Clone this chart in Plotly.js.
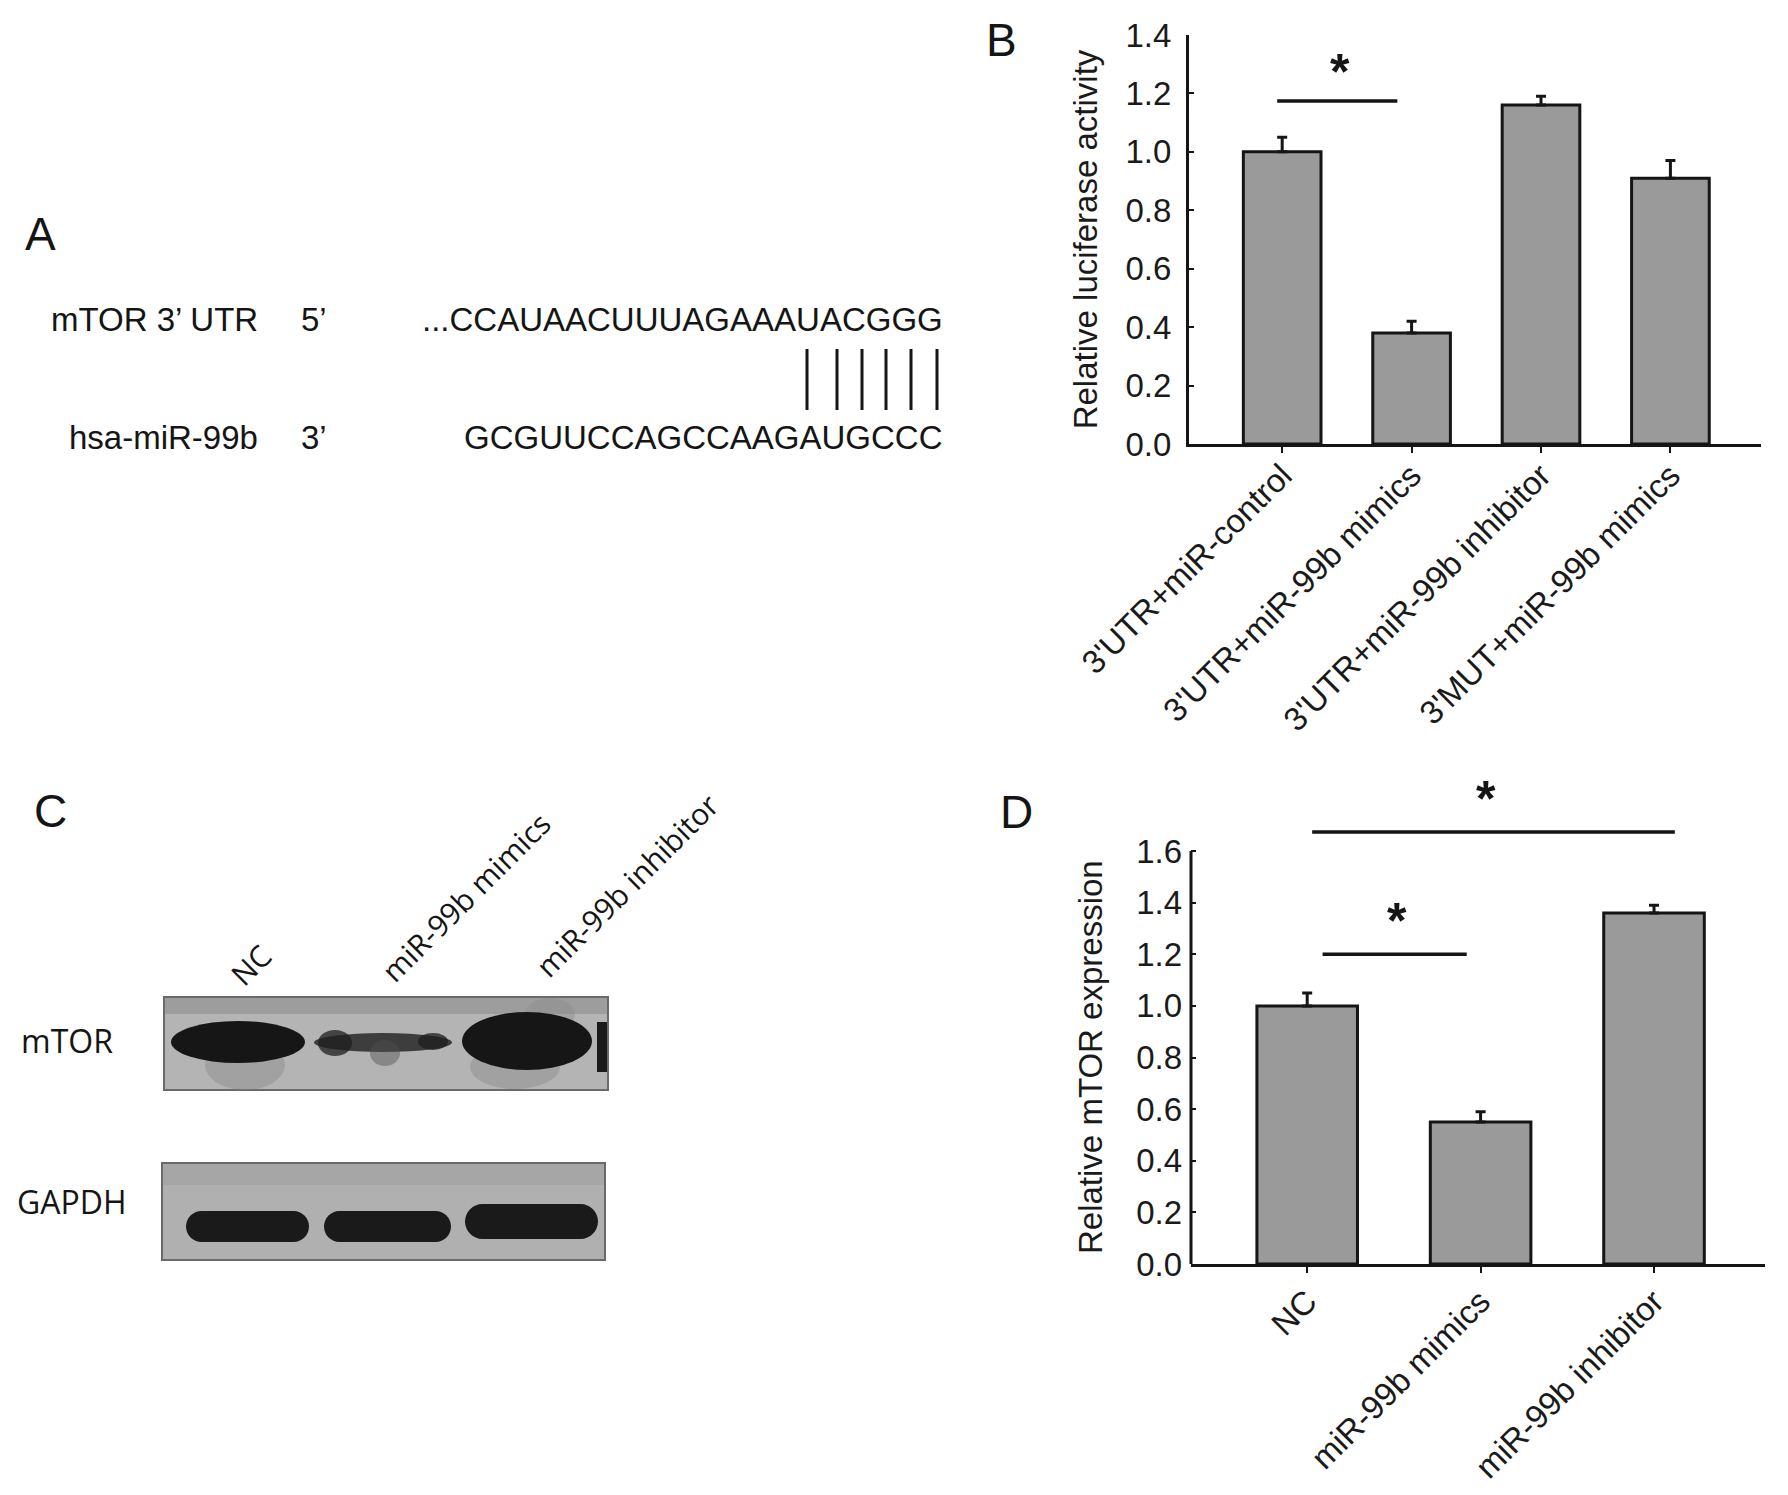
<!DOCTYPE html>
<html><head><meta charset="utf-8">
<script src="https://cdn.plot.ly/plotly-3.0.1.min.js"></script>
<style>html,body{margin:0;padding:0;background:#fff;} #chart{width:1788px;height:1495px;}</style>
</head><body><div id="chart"></div>
<script>
// ---------- data ----------
const catsB = ["3'UTR+miR-control", "3'UTR+miR-99b mimics", "3'UTR+miR-99b inhibitor", "3'MUT+miR-99b mimics"];
const valsB = [1.00, 0.38, 1.16, 0.91];
const errB  = [0.05, 0.04, 0.03, 0.06];

const catsD = ["NC", "miR-99b mimics", "miR-99b inhibitor"];
const valsD = [1.00, 0.55, 1.36];
const errD  = [0.05, 0.04, 0.03];
const ticksD = [0, 0.2, 0.4, 0.6, 0.8, 1.0, 1.2, 1.4, 1.6];

const utrLabel = "mTOR 3\u2019 UTR";
const mirLabel = "hsa-miR-99b";
const utrSeq = "...CCAUAACUUUAGAAAUACGGG";
const mirSeq = "GCGUUCCAGCCAAGAUGCCC";
const blotLanes = ["NC", "miR-99b mimics", "miR-99b inhibitor"];
const mtorBand  = [1.0, 0.75, 1.0];
const gapdhBand = [1.0, 1.0, 1.0];

// ---------- helpers ----------
const W = 1788, H = 1495;
const px = x => x / W, py = y => 1 - y / H;
const FONT = "Liberation Sans, Arial, sans-serif";
const INK = "#151515";

function pill(x0, y0, x1, y1) {
  const r = (y1 - y0) / 2, k = 0.55;
  const P = (x, y) => px(x).toFixed(5) + "," + py(y).toFixed(5);
  return "M" + P(x0 + r, y0) + " L" + P(x1 - r, y0) +
    " C" + P(x1 - r + r * k, y0) + " " + P(x1, y0 + r - r * k) + " " + P(x1, y0 + r) +
    " C" + P(x1, y1 - r + r * k) + " " + P(x1 - r + r * k, y1) + " " + P(x1 - r, y1) +
    " L" + P(x0 + r, y1) +
    " C" + P(x0 + r - r * k, y1) + " " + P(x0, y1 - r + r * k) + " " + P(x0, y1 - r) +
    " C" + P(x0, y0 + r - r * k) + " " + P(x0 + r - r * k, y0) + " " + P(x0 + r, y0) + " Z";
}
function sigLine(xr, yr, x0, x1, y) {
  return {xref: xr, yref: yr, axref: xr, ayref: yr, x: x1, y: y, ax: x0, ay: y,
    text: "", showarrow: true, arrowhead: 0, arrowwidth: 3.5, arrowcolor: INK, standoff: 0, startstandoff: 0};
}
function star(xr, yr, x, y) {
  return {xref: xr, yref: yr, x: x, y: y, text: "<b>*</b>", showarrow: false,
    font: {family: FONT, size: 50, color: INK}, xanchor: "center", yanchor: "middle"};
}

// ---------- traces ----------
const barStyle = {color: "#9a9a9a", line: {color: INK, width: 3}};
const traces = [
  {type: "bar", x: catsB, y: valsB, xaxis: "x", yaxis: "y", width: 0.6,
   marker: barStyle, showlegend: false,
   error_y: {type: "data", symmetric: false, array: errB, arrayminus: errB.map(() => 0),
     color: INK, thickness: 3, width: 5}},
  {type: "bar", x: catsD, y: valsD, xaxis: "x2", yaxis: "y2", width: 0.58,
   marker: barStyle, showlegend: false,
   error_y: {type: "data", symmetric: false, array: errD, arrayminus: errD.map(() => 0),
     color: INK, thickness: 3, width: 5}}
];

const tickFont = {family: FONT, size: 33, color: "#1a1a1a"};
const axCommon = {showline: true, linewidth: 3, linecolor: INK, showgrid: false, zeroline: false,
  tickcolor: INK, tickwidth: 2, tickfont: tickFont, fixedrange: true};

// ---------- annotations ----------
const ann = [];
[["A", 40, 234], ["B", 1001, 40], ["C", 50, 811], ["D", 1016, 812]].forEach(([t, x, y]) => {
  ann.push({xref: "paper", yref: "paper", x: px(x), y: py(y), text: t, showarrow: false,
    xanchor: "center", yanchor: "middle", font: {family: FONT, size: 46, color: INK}});
});
const aFont = {family: FONT, size: 33, color: INK};
ann.push({xref: "paper", yref: "paper", x: px(260), y: py(320), text: utrLabel, showarrow: false, xanchor: "right", yanchor: "middle", font: aFont});
ann.push({xref: "paper", yref: "paper", x: px(299), y: py(320), text: "5\u2019", showarrow: false, xanchor: "left", yanchor: "middle", font: aFont});
ann.push({xref: "paper", yref: "paper", x: px(945), y: py(320), text: utrSeq, showarrow: false, xanchor: "right", yanchor: "middle", font: aFont});
ann.push({xref: "paper", yref: "paper", x: px(260), y: py(437), text: mirLabel, showarrow: false, xanchor: "right", yanchor: "middle", font: aFont});
ann.push({xref: "paper", yref: "paper", x: px(299), y: py(437), text: "3\u2019", showarrow: false, xanchor: "left", yanchor: "middle", font: aFont});
ann.push({xref: "paper", yref: "paper", x: px(945), y: py(437), text: mirSeq, showarrow: false, xanchor: "right", yanchor: "middle", font: aFont});
const cFont = {family: "Open Sans, sans-serif", size: 30, color: INK};
const cLblFont = {family: "Open Sans, sans-serif", size: 32, color: INK};
ann.push({xref: "paper", yref: "paper", x: px(19), y: py(1040), text: "mTOR", showarrow: false, xanchor: "left", yanchor: "middle", font: cLblFont});
ann.push({xref: "paper", yref: "paper", x: px(15), y: py(1201), text: "GAPDH", showarrow: false, xanchor: "left", yanchor: "middle", font: cLblFont});
[[250, 965], [465, 897], [627, 886]].forEach(([x, y], i) => {
  ann.push({xref: "paper", yref: "paper", x: px(x), y: py(y), text: blotLanes[i], showarrow: false,
    textangle: -45, xanchor: "center", yanchor: "middle", font: cFont});
});
ann.push({xref: "paper", yref: "paper", x: px(1090), y: py(1057), text: "Relative mTOR expression", showarrow: false,
  textangle: -90, xanchor: "center", yanchor: "middle", font: {family: FONT, size: 33, color: "#1a1a1a"}});
ann.push(sigLine("x", "y", -0.05, 0.89, 1.174));
ann.push(star("x", "y", 0.45, 1.275));
ann.push(sigLine("x2", "y2", 0.08, 0.92, 1.20));
ann.push(star("x2", "y2", 0.52, 1.33));
ann.push(sigLine("x2", "y2", 0.02, 2.12, 1.674));
ann.push(star("x2", "y2", 1.03, 1.80));

// ---------- shapes ----------
const shapes = [];
[807, 837, 862, 886, 911, 937].forEach(x => {
  shapes.push({type: "line", xref: "paper", yref: "paper", x0: px(x), x1: px(x), y0: py(349), y1: py(410),
    line: {color: INK, width: 3}});
});
// D y-axis line only up to the last tick
shapes.push({type: "line", xref: "x2 domain", yref: "y2", x0: 0, x1: 0, y0: 0, y1: ticksD[ticksD.length - 1],
  line: {color: INK, width: 3}});
// blot strips
shapes.push({type: "rect", xref: "paper", yref: "paper", x0: px(164), x1: px(608), y0: py(997), y1: py(1090),
  fillcolor: "#b4b4b4", line: {color: "#6a6a6a", width: 2}});
shapes.push({type: "rect", xref: "paper", yref: "paper", x0: px(165), x1: px(607), y0: py(998), y1: py(1014),
  fillcolor: "#8e8e8e", line: {width: 0}, opacity: 0.6});
shapes.push({type: "rect", xref: "paper", yref: "paper", x0: px(162), x1: px(605), y0: py(1163), y1: py(1260),
  fillcolor: "#b0b0b0", line: {color: "#6a6a6a", width: 2}});
shapes.push({type: "rect", xref: "paper", yref: "paper", x0: px(163), x1: px(604), y0: py(1164), y1: py(1185),
  fillcolor: "#a2a2a2", line: {width: 0}, opacity: 0.7});
shapes.push({type: "circle", xref: "paper", yref: "paper", x0: px(205), x1: px(285), y0: py(1040), y1: py(1090),
  fillcolor: "#8a8a8a", line: {width: 0}, opacity: 0.45});
shapes.push({type: "circle", xref: "paper", yref: "paper", x0: px(470), x1: px(560), y0: py(1045), y1: py(1089),
  fillcolor: "#8a8a8a", line: {width: 0}, opacity: 0.45});
shapes.push({type: "circle", xref: "paper", yref: "paper", x0: px(525), x1: px(575), y0: py(998), y1: py(1030),
  fillcolor: "#8a8a8a", line: {width: 0}, opacity: 0.4});
// mTOR bands
const mtorBoxes = [[171, 1021, 305, 1063], [314, 1033, 452, 1052], [462, 1012, 592, 1070]];
mtorBoxes.forEach(([x0, y0, x1, y1], i) => {
  shapes.push({type: "circle", xref: "paper", yref: "paper", x0: px(x0), x1: px(x1), y0: py(y0), y1: py(y1),
    fillcolor: "#161616", line: {width: 0}, opacity: mtorBand[i]});
});
shapes.push({type: "circle", xref: "paper", yref: "paper", x0: px(318), x1: px(352), y0: py(1030), y1: py(1056),
  fillcolor: "#1e1e1e", line: {width: 0}, opacity: mtorBand[1]});
shapes.push({type: "circle", xref: "paper", yref: "paper", x0: px(370), x1: px(400), y0: py(1040), y1: py(1066),
  fillcolor: "#505050", line: {width: 0}, opacity: mtorBand[1] * 0.6});
shapes.push({type: "circle", xref: "paper", yref: "paper", x0: px(418), x1: px(448), y0: py(1033), y1: py(1050),
  fillcolor: "#1e1e1e", line: {width: 0}, opacity: mtorBand[1]});
shapes.push({type: "rect", xref: "paper", yref: "paper", x0: px(597), x1: px(607), y0: py(1022), y1: py(1072),
  fillcolor: "#1a1a1a", line: {width: 0}});
// GAPDH bands
const gapdhBoxes = [[186, 1211, 309, 1242], [324, 1211, 451, 1242], [465, 1204, 598, 1239]];
gapdhBoxes.forEach(([x0, y0, x1, y1], i) => {
  shapes.push({type: "path", xref: "paper", yref: "paper", path: pill(x0, y0, x1, y1),
    fillcolor: "#1a1a1a", line: {width: 0}, opacity: gapdhBand[i]});
});

// ---------- layout ----------
const layout = {
  width: W, height: H, margin: {l: 0, r: 0, t: 0, b: 0},
  paper_bgcolor: "#ffffff", plot_bgcolor: "rgba(0,0,0,0)",
  xaxis: Object.assign({}, axCommon, {domain: [px(1189), px(1761)], range: [-0.72, 3.7], type: "category",
    anchor: "y", ticks: "outside", ticklen: 6, tickangle: -45, ticklabelstandoff: -10}),
  yaxis: Object.assign({}, axCommon, {domain: [py(444), py(35)], range: [0, 1.4], anchor: "x",
    dtick: 0.2, tick0: 0, tickformat: ".1f", ticks: "inside", ticklen: 5, ticklabelstandoff: 8,
    title: {text: "Relative luciferase activity", font: {family: FONT, size: 33, color: "#1a1a1a"}, standoff: 18}}),
  xaxis2: Object.assign({}, axCommon, {domain: [px(1191), px(1765)], range: [-0.67, 2.64], type: "category",
    anchor: "y2", ticks: "outside", ticklen: 6, tickangle: -45, ticklabelstandoff: -4}),
  yaxis2: Object.assign({}, axCommon, {domain: [py(1264), py(1264 - 1.95 * 258.1)], range: [0, 1.95], anchor: "x2",
    showline: false, tickmode: "array", tickvals: ticksD, tickformat: ".1f", ticks: "inside", ticklen: 5, ticklabelstandoff: 8}),
  annotations: ann,
  shapes: shapes
};

Plotly.newPlot("chart", traces, layout, {displayModeBar: false, staticPlot: true});
</script>
</body></html>
